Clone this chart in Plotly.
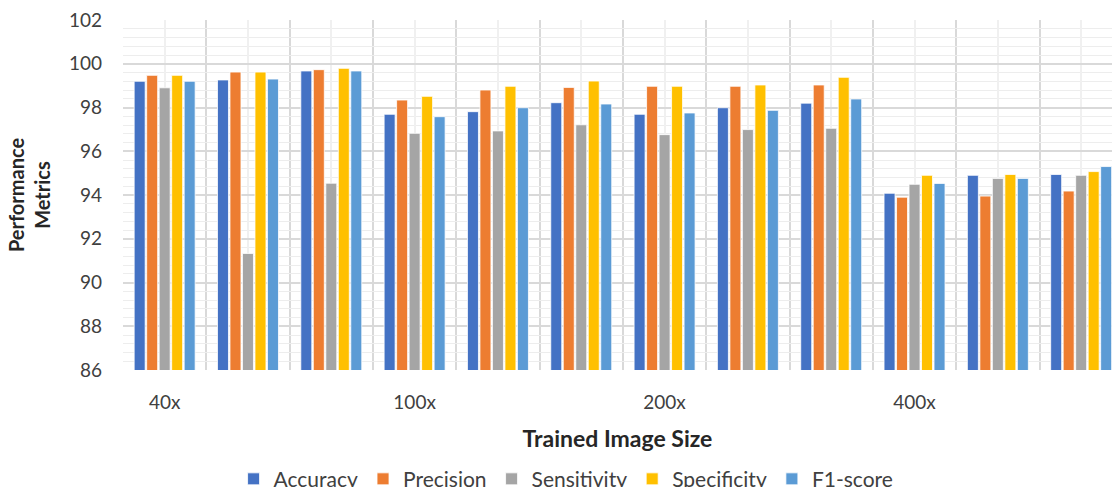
import plotly.graph_objects as go

# Twelve runs, labelled by magnification every third group
groups = list(range(12))
group_labels = ["40x", "", "", "100x", "", "", "200x", "", "", "400x", "", ""]

accuracy    = [99.2, 99.26, 99.67, 97.69, 97.81, 98.22, 97.69, 97.99, 98.2, 94.08, 94.9, 94.94]
precision   = [99.47, 99.62, 99.73, 98.34, 98.8, 98.92, 98.97, 98.97, 99.03, 93.9, 93.95, 94.18]
sensitivity = [98.9, 91.33, 94.54, 96.82, 96.93, 97.21, 96.76, 96.99, 97.05, 94.49, 94.76, 94.9]
specificity = [99.47, 99.62, 99.79, 98.51, 98.97, 99.21, 98.97, 99.03, 99.38, 94.9, 94.94, 95.07]
f1_score    = [99.2, 99.3, 99.67, 97.58, 97.99, 98.16, 97.75, 97.87, 98.39, 94.53, 94.76, 95.3]

series = [
    ("Accuracy", accuracy, "#4472C4"),
    ("Precision", precision, "#ED7D31"),
    ("Sensitivity", sensitivity, "#A5A5A5"),
    ("Specificity", specificity, "#FFC000"),
    ("F1-score", f1_score, "#5B9BD5"),
]

FONT = "Lato"

fig = go.Figure()
for name, vals, color in series:
    fig.add_trace(go.Bar(
        x=groups, y=vals, name=name,
        marker=dict(color=color, line=dict(color="white", width=0.8)),
    ))

fig.update_layout(
    width=1112, height=487,
    margin=dict(l=123, r=0, t=20, b=117, autoexpand=False),
    paper_bgcolor="white", plot_bgcolor="white",
    barmode="group", bargap=0.25, bargroupgap=0.12,
    font=dict(family=FONT, color="#404040"),
    legend=dict(
        orientation="h", x=0.448, xanchor="center", y=-0.312, yanchor="middle",
        font=dict(size=21, color="#404040"), traceorder="normal",
        itemwidth=30,
    ),
    showlegend=True,
)

fig.update_xaxes(
    range=[-0.5, 11.37],
    tickmode="array", tickvals=groups, ticktext=group_labels,
    tickfont=dict(size=19, color="#404040"),
    ticks="", ticklabelstandoff=19,
    showgrid=True, gridcolor="#F0F0F0", gridwidth=1.5,
    minor=dict(tickmode="array", tickvals=[g - 0.5 for g in groups] + [11.5],
               showgrid=True, gridcolor="#D9D9D9", gridwidth=2, ticks=""),
    zeroline=False, showline=False,
    title=dict(text="<b>Trained Image Size</b>", font=dict(size=23, color="#262626"), standoff=18),
)

fig.update_yaxes(
    range=[86, 102], dtick=2, tick0=86,
    tickfont=dict(size=19, color="#404040"),
    ticks="", ticklabelstandoff=20,
    showgrid=True, gridcolor="#D9D9D9", gridwidth=2,
    minor=dict(dtick=0.4, tick0=86, showgrid=True, gridcolor="#EDEDED", gridwidth=1),
    zeroline=False, showline=False,
    title=dict(text="<b>Performance<br>Metrics</b>", font=dict(size=20, color="#262626"), standoff=12),
)

fig.write_html("out.html")
